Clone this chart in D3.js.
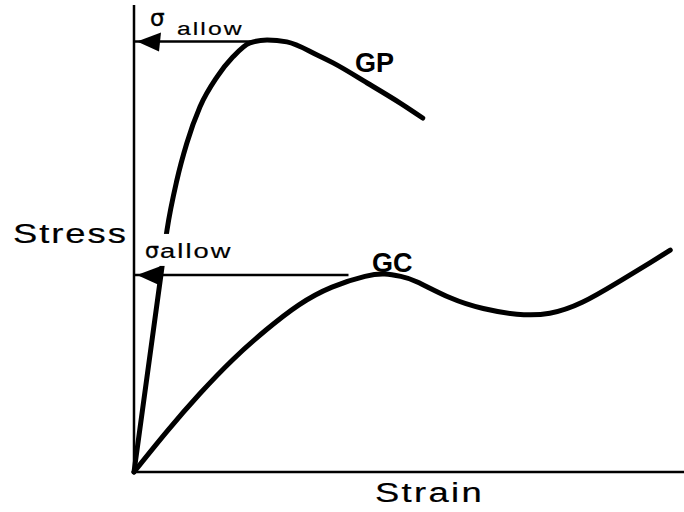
<!DOCTYPE html>
<html>
<head>
<meta charset="utf-8">
<script src="https://cdn.jsdelivr.net/npm/d3@7"></script>
<style>
  body { margin: 0; background: #fff; }
  text { font-family: "Liberation Sans", Arial, sans-serif; fill: #000; }
</style>
</head>
<body>
<svg></svg>
<script>
        const svgWidth = 684;
        const svgHeight = 512;

        // curves, strain / stress in 0..100 units
        const gpStrain = [0, 4.9, 6.0, 7.8, 9.6, 12.0, 15.1, 18.0, 21.1, 24.2, 27.8, 33.3, 36.2, 42.4, 48.4, 52.5];
        const gpStress = [0, 42.2, 51.8, 62.5, 70.4, 78.2, 84.6, 88.9, 91.9, 92.5, 92.1, 89.3, 87.6, 83.3, 79.0, 75.8];

        const gcStrain = [0, 6.0, 12.0, 18.0, 24.0, 30.0, 36.0, 42.0, 45.6, 48.5, 51.5, 57.5, 63.5, 69.6, 75.6, 81.6, 87.8, 93.8, 97.5];
        const gcStress = [0, 8.7, 16.8, 24.1, 30.4, 35.8, 39.6, 41.9, 42.4, 41.9, 40.7, 37.3, 35.0, 33.8, 34.0, 36.4, 40.5, 44.8, 47.5];

        // allowable stress arrows: level and where the line stops
        const allowLevel = [92.2, 42.2];
        const allowEnd = [21.5, 39.0];

        const svg = d3.select("svg")
            .attr("width", svgWidth)
            .attr("height", svgHeight);

        const x = d3.scaleLinear().domain([0, 100]).range([134, 684]);
        const y = d3.scaleLinear().domain([0, 100]).range([472, 5]);

        const gpLine = d3.line()
            .x(d => x(d[0]))
            .y(d => y(d[1]))
            .curve(d3.curveMonotoneX);
        const gcLine = d3.line()
            .x(d => x(d[0]))
            .y(d => y(d[1]))
            .curve(d3.curveNatural);

        // axes
        svg.append("line")
            .attr("x1", x(0)).attr("y1", y(0))
            .attr("x2", x(0)).attr("y2", y(100))
            .attr("stroke", "black").attr("stroke-width", 2.5);
        svg.append("line")
            .attr("x1", x(0) - 2).attr("y1", y(0))
            .attr("x2", x(100)).attr("y2", y(0))
            .attr("stroke", "black").attr("stroke-width", 2.5);

        const gp = gpStrain.map((v, i) => [v, gpStress[i]]);
        const gc = gcStrain.map((v, i) => [v, gcStress[i]]);

        svg.selectAll("path.curve")
            .data([[gp, gpLine], [gc, gcLine]])
            .enter().append("path")
            .attr("class", "curve")
            .attr("d", d => d[1](d[0]))
            .attr("fill", "none")
            .attr("stroke", "black")
            .attr("stroke-width", 5)
            .attr("stroke-linecap", "round")
            .attr("stroke-linejoin", "round");

        // the lower label sits on top of the GP elastic line
        svg.append("rect")
            .attr("x", x(0) + 6).attr("y", y(42.2) - 41)
            .attr("width", 100).attr("height", 32)
            .attr("fill", "white");

        // allowable stress arrows
        allowLevel.forEach((lv, i) => {
            const yy = y(lv);
            svg.append("line")
                .attr("x1", x(0)).attr("y1", yy)
                .attr("x2", x(allowEnd[i])).attr("y2", yy)
                .attr("stroke", "black").attr("stroke-width", 2.5);
            const tip = x(0) + 3;
            svg.append("path")
                .attr("d", `M${tip},${yy} L${tip + 24},${yy - 9} L${tip + 22},${yy + 10} Z`)
                .attr("fill", "black");
        });

        // the scan is stretched sideways, so the text is too
        function wideText(tx, ty, size, spacing, str) {
            return svg.append("text")
                .attr("transform", `translate(${tx},${ty}) scale(1.3,1)`)
                .attr("font-size", size)
                .attr("letter-spacing", spacing)
                .attr("stroke", "black")
                .attr("stroke-width", 0.2)
                .text(str);
        }

        // σallow labels
        const labels = [
            {sx: 150, sy: 26, ax: 177, ay: 35, sSize: 23, aSize: 19},
            {sx: 145, sy: 258, ax: 160, ay: 258, sSize: 22, aSize: 21}
        ];
        labels.forEach(l => {
            svg.append("text")
                .attr("x", l.sx).attr("y", l.sy)
                .style("font-family", "DejaVu Sans, sans-serif")
                .attr("font-size", l.sSize)
                .attr("stroke", "black").attr("stroke-width", 0.4)
                .text("σ");
            wideText(l.ax, l.ay, l.aSize, 1.6, "allow");
        });

        svg.append("text")
            .attr("x", 355).attr("y", 72)
            .attr("font-size", 27).attr("font-weight", "bold")
            .text("GP");
        svg.append("text")
            .attr("x", 372).attr("y", 272)
            .attr("font-size", 27).attr("font-weight", "bold")
            .text("GC");

        wideText(13, 243, 28, 1.5, "Stress");
        wideText(375, 502, 28, 1.8, "Strain");
</script>
</body>
</html>
